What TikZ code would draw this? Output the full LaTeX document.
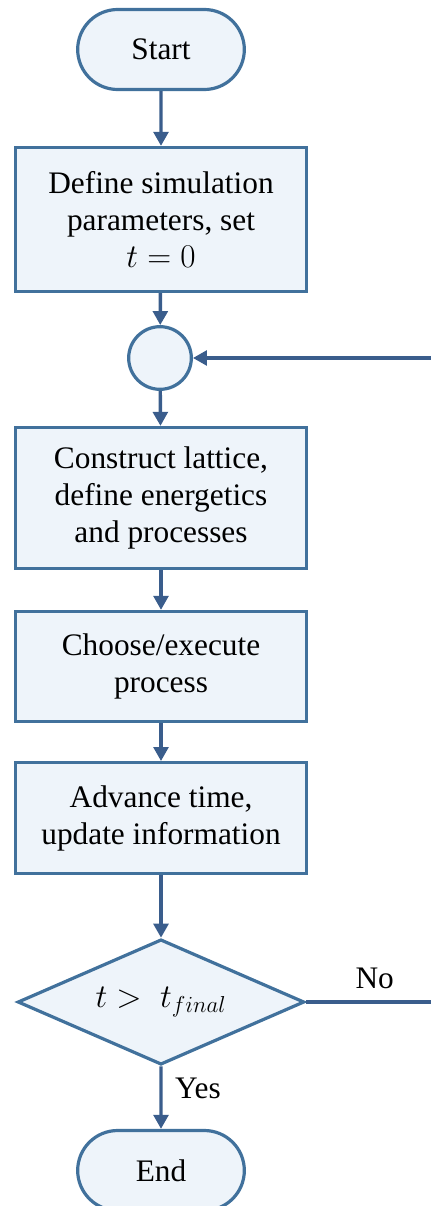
\documentclass[tikz,border=0pt]{standalone}
\usepackage{fontspec}
\setmainfont{Liberation Serif}
\usetikzlibrary{shapes.geometric,shapes.misc,arrows.meta}
\definecolor{boxline}{RGB}{65,113,156}
\definecolor{boxfill}{RGB}{238,244,250}
\definecolor{flowline}{RGB}{58,93,140}

\begin{document}
\begin{tikzpicture}[x=0.75pt,y=-0.75pt,
  every node/.style={font=\fontsize{23.5pt}{27.8pt}\selectfont},
  terminal/.style={draw=boxline,fill=boxfill,line width=2.4pt,rounded rectangle,
    minimum width=125pt,minimum height=60pt,inner sep=0pt},
  process/.style={draw=boxline,fill=boxfill,line width=2.4pt,rectangle,
    minimum width=218pt,inner sep=0pt,align=center},
  junction/.style={draw=boxline,fill=boxfill,line width=2.4pt,circle,
    minimum size=47pt,inner sep=0pt},
  decision/.style={draw=boxline,fill=boxfill,line width=2.4pt,diamond,aspect=2.3,
    minimum width=215pt,minimum height=94pt,inner sep=0pt},
  flow/.style={draw=flowline,line width=2.6pt,-{Triangle[width=11pt,length=10.5pt]}},
  plainflow/.style={draw=flowline,line width=2.6pt}]
  \useasboundingbox (0,0) rectangle (431,1206);
  % main column
  \node[terminal] (start) at (161,49.5) {Start};
  \node[process,minimum height=108pt] (setup) at (161,219.5)
    {Define simulation\\parameters, set\\$t = 0$};
  \node[junction] (join) at (160,358) {};
  \node[process,minimum height=105.75pt] (lattice) at (161,498)
    {Construct lattice,\\define energetics\\and processes};
  \node[process,minimum height=82.5pt] (choose) at (161,666.5)
    {Choose/execute\\process};
  \node[process,minimum height=83pt] (advance) at (161,818)
    {Advance time,\\update information};
  \node[decision] (test) at (161,1002) {$t >\; t_{final}$};
  \node[terminal] (stop) at (161,1170.5) {End};
  % loop ends at the right margin
  \coordinate (noend) at (431,1002);
  \coordinate (loopin) at (431,358);
  % connectors
  \draw[flow] (start) -- (setup);
  \draw[flow] (setup) -- (join);
  \draw[flow] (join) -- (lattice);
  \draw[flow] (lattice) -- (choose);
  \draw[flow] (choose) -- (advance);
  \draw[flow] (advance) -- (test);
  \draw[flow] (test) -- node[pos=0.35,anchor=west,xshift=6pt] {Yes} (stop);
  \draw[plainflow] (test) -- node[pos=0.55,anchor=south,yshift=5pt] {No} (noend);
  \draw[flow] (loopin) -- (join);
\end{tikzpicture}
\end{document}
